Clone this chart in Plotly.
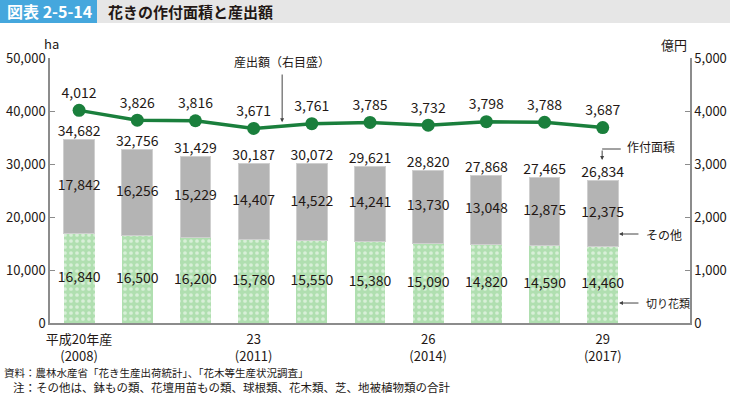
import plotly.graph_objects as go

# ---- data ----
years_idx = list(range(10))
tick_vals = [0, 3, 6, 9]
tick_text = ["平成20年産<br>(2008)", "23<br>(2011)", "26<br>(2014)", "29<br>(2017)"]
cut_flowers = [16840, 16500, 16200, 15780, 15550, 15380, 15090, 14820, 14590, 14460]
others = [17842, 16256, 15229, 14407, 14522, 14241, 13730, 13048, 12875, 12375]
total_area = [34682, 32756, 31429, 30187, 30072, 29621, 28820, 27868, 27465, 26834]
output_value = [4012, 3826, 3816, 3671, 3761, 3785, 3732, 3798, 3788, 3687]

FONT = "Noto Sans CJK JP"
TXT = "#231815"
GREEN_LINE = "#1a7f3c"
GREEN_BAR = "#b0dfb0"
GRAY_BAR = "#b4b4b4"
AXIS = "#8c8c8c"

def fmt(v):
    return f"{v:,}"

cut_mid = [c / 2 for c in cut_flowers]
other_mid = [c + o / 2 for c, o in zip(cut_flowers, others)]

fig = go.Figure()

fig.add_trace(go.Bar(
    x=years_idx, y=cut_flowers, width=0.53,
    marker=dict(color=GREEN_BAR, line=dict(width=0),
                pattern=dict(shape=".", fillmode="overlay", fgcolor="white",
                             bgcolor=GREEN_BAR, size=6, solidity=0.3)),
    textposition="none", showlegend=False, yaxis="y",
))
fig.add_trace(go.Bar(
    x=years_idx, y=others, width=0.53,
    marker=dict(color=GRAY_BAR, line=dict(width=1, color="#cfcfcf")),
    textposition="none", showlegend=False, yaxis="y",
))
fig.add_trace(go.Scatter(
    x=years_idx, y=cut_mid, mode="text",
    text=[fmt(v) for v in cut_flowers], textposition="middle center",
    textfont=dict(family=FONT, size=14, color=TXT),
    showlegend=False, yaxis="y", cliponaxis=False,
))
fig.add_trace(go.Scatter(
    x=years_idx, y=other_mid, mode="text",
    text=[fmt(v) for v in others], textposition="middle center",
    textfont=dict(family=FONT, size=14, color=TXT),
    showlegend=False, yaxis="y", cliponaxis=False,
))
fig.add_trace(go.Scatter(
    x=years_idx, y=total_area, mode="text",
    text=[fmt(v) for v in total_area], textposition="top center",
    textfont=dict(family=FONT, size=14, color=TXT),
    showlegend=False, yaxis="y", cliponaxis=False,
))
fig.add_trace(go.Scatter(
    x=years_idx, y=output_value, mode="lines+markers+text",
    line=dict(color=GREEN_LINE, width=3.5),
    marker=dict(color=GREEN_LINE, size=13),
    text=[fmt(v) for v in output_value], textposition="top center",
    textfont=dict(family=FONT, size=14, color=TXT),
    showlegend=False, yaxis="y2", cliponaxis=False,
))

fig.update_layout(
    width=730, height=394,
    margin=dict(l=50, r=40, t=58, b=71),
    paper_bgcolor="white", plot_bgcolor="white",
    barmode="stack", bargap=0.47,
    font=dict(family=FONT, size=13, color=TXT),
    xaxis=dict(range=[-0.5, 10.5], tickvals=tick_vals, ticktext=tick_text,
               showline=True, linecolor=AXIS, linewidth=1.5, ticks="",
               ticklabelstandoff=4,
               showgrid=False, zeroline=False, automargin=False,
               tickfont=dict(family=FONT, size=13, color=TXT)),
    yaxis=dict(range=[0, 50000], tickvals=[0, 10000, 20000, 30000, 40000, 50000],
               ticktext=["0", "10,000", "20,000", "30,000", "40,000", "50,000"],
               showline=True, linecolor=AXIS, linewidth=1.5,
               ticks="inside", ticklen=5, tickcolor=AXIS,
               showgrid=False, zeroline=False, automargin=False,
               tickfont=dict(family=FONT, size=13, color=TXT)),
    yaxis2=dict(range=[0, 5000], overlaying="y", side="right",
                tickvals=[0, 1000, 2000, 3000, 4000, 5000],
                ticktext=["0", "1,000", "2,000", "3,000", "4,000", "5,000"],
                showline=True, linecolor=AXIS, linewidth=1.5,
                ticks="inside", ticklen=5, tickcolor=AXIS,
                showgrid=False, zeroline=False, automargin=False,
                tickfont=dict(family=FONT, size=13, color=TXT)),
)

shapes = [
    # title bars
    dict(type="rect", xref="paper", yref="paper", x0=-50/640, x1=690/640,
         y0=1 + 35/265, y1=1 + 58/265, fillcolor="#e6e6e6", line=dict(width=0), layer="below"),
    dict(type="rect", xref="paper", yref="paper", x0=-50/640, x1=47/640,
         y0=1 + 35/265, y1=1 + 58/265, fillcolor="#45a7dd", line=dict(width=0), layer="below"),
    # 作付面積 elbow
    dict(type="line", xref="x", yref="y", x0=8.99, x1=9.31, y0=32830, y1=32830,
         line=dict(color="#444", width=1)),
]
fig.update_layout(shapes=shapes)

ann = []
ann.append(dict(xref="paper", yref="paper", x=-45/640, y=1 + 46.5/265, text="<b>図表 2-5-14</b>",
                showarrow=False, xanchor="left", yanchor="middle",
                font=dict(family=FONT, size=16, color="white")))
ann.append(dict(xref="paper", yref="paper", x=56/640, y=1 + 46.5/265, text="<b>花きの作付面積と産出額</b>",
                showarrow=False, xanchor="left", yanchor="middle",
                font=dict(family=FONT, size=15, color=TXT)))
ann.append(dict(xref="paper", yref="paper", x=-8/640, y=1 + 15/265, text="ha",
                showarrow=False, xanchor="left", yanchor="middle",
                font=dict(family=FONT, size=13, color=TXT)))
ann.append(dict(xref="paper", yref="paper", x=1 - 1/640, y=1 + 14/265, text="億円",
                showarrow=False, xanchor="right", yanchor="middle",
                font=dict(family=FONT, size=13, color=TXT)))
# 産出額（右目盛） with vertical arrow
ann.append(dict(x=3.49, y=3790, xref="x", yref="y2", ax=3.49, ay=4717, axref="x", ayref="y2",
                text="", showarrow=True, arrowhead=2, arrowsize=0.8, arrowwidth=1,
                arrowcolor="#444"))
ann.append(dict(x=3.49, y=4740, xref="x", yref="y2", text="産出額（右目盛）",
                showarrow=False, yanchor="bottom", xanchor="center",
                font=dict(family=FONT, size=12, color=TXT)))
# 作付面積
ann.append(dict(x=8.99, y=30755, xref="x", yref="y", ax=8.99, ay=32830, axref="x", ayref="y",
                text="", showarrow=True, arrowhead=2, arrowsize=0.8, arrowwidth=1,
                arrowcolor="#444"))
ann.append(dict(x=9.38, y=33300, xref="x", yref="y", text="作付面積",
                showarrow=False, xanchor="left", yanchor="middle",
                font=dict(family=FONT, size=12, color=TXT)))
# その他
ann.append(dict(x=9.28, y=16790, xref="x", yref="y", ax=9.64, ay=16790, axref="x", ayref="y",
                text="", showarrow=True, arrowhead=2, arrowsize=0.8, arrowwidth=1,
                arrowcolor="#444"))
ann.append(dict(x=9.71, y=16790, xref="x", yref="y", text="その他",
                showarrow=False, xanchor="left", yanchor="middle",
                font=dict(family=FONT, size=12, color=TXT)))
# 切り花類
ann.append(dict(x=9.28, y=3770, xref="x", yref="y", ax=9.64, ay=3770, axref="x", ayref="y",
                text="", showarrow=True, arrowhead=2, arrowsize=0.8, arrowwidth=1,
                arrowcolor="#444"))
ann.append(dict(x=9.71, y=3770, xref="x", yref="y", text="切り花類",
                showarrow=False, xanchor="left", yanchor="middle",
                font=dict(family=FONT, size=11, color=TXT)))
# footer
ann.append(dict(xref="paper", yref="paper", x=-48/640, y=-49/265,
                text="資料：農林水産省「花き生産出荷統計」、「花木等生産状況調査」",
                showarrow=False, xanchor="left", yanchor="middle",
                font=dict(family=FONT, size=10.5, color=TXT)))
ann.append(dict(xref="paper", yref="paper", x=-39/640, y=-64/265,
                text="注：その他は、鉢もの類、花壇用苗もの類、球根類、花木類、芝、地被植物類の合計",
                showarrow=False, xanchor="left", yanchor="middle",
                font=dict(family=FONT, size=11.5, color=TXT)))
fig.update_layout(annotations=ann)

fig.write_html("out.html", config={"displayModeBar": False},
               post_script="document.body.style.margin='0';document.body.style.overflow='hidden';")
